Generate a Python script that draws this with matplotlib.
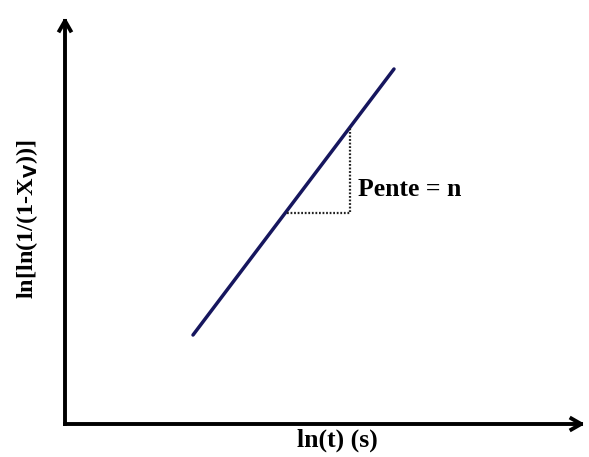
import matplotlib.pyplot as plt
import numpy as np

# Avrami plot: ln[ln(1/(1-Xv))] against ln(t), straight line of slope n
ln_t = np.array([2.56, 6.58])
ln_ln = np.array([1.78, 7.10])

# slope triangle (horizontal leg, then vertical leg up to the line)
tri_x = np.array([4.44, 5.70])
tri_y0 = 4.22

plt.rcParams['font.family'] = ['Liberation Serif', 'DejaVu Serif']

fig = plt.figure(figsize=(5.89, 4.57), dpi=100)
ax = fig.add_axes([65 / 589, 33 / 457, 524 / 589, 424 / 457])
ax.set_xlim(0, 10.48)
ax.set_ylim(0, 8.48)
ax.axis('off')

# axes drawn as arrows
arrow = dict(arrowstyle='->, head_length=0.7, head_width=0.4', lw=2.8,
             color='black', shrinkA=0, shrinkB=0, capstyle='projecting')
ax.annotate('', xy=(10.40, 0), xytext=(0, 0), arrowprops=arrow, annotation_clip=False)
ax.annotate('', xy=(0, 8.14), xytext=(0, 0), arrowprops=arrow, annotation_clip=False)

ax.plot(ln_t, ln_ln, color='#16165e', lw=2.5, solid_capstyle='round')

top_y = np.interp(tri_x[1], ln_t, ln_ln)
ax.plot([tri_x[0], tri_x[1], tri_x[1]], [tri_y0, tri_y0, top_y],
        color='#222222', lw=1.6, ls=(0, (0.8, 0.8)))

ax.text(tri_x[1] + 0.15, tri_y0 + 0.48, 'Pente = n', fontsize=18.5,
        fontweight='bold', ha='left', va='center')

fig.text(337 / 589, 1 - 440 / 457, 'ln(t) (s)', fontsize=18.5, fontweight='bold',
         ha='center', va='center')
fig.text(27 / 589, 1 - 219 / 457, r'ln[ln(1/(1-X$_{\mathbf{V}}$))]', fontsize=17.5,
         fontweight='bold', rotation=90, ha='center', va='center')

fig.savefig('out.png', dpi=100, facecolor='white')
